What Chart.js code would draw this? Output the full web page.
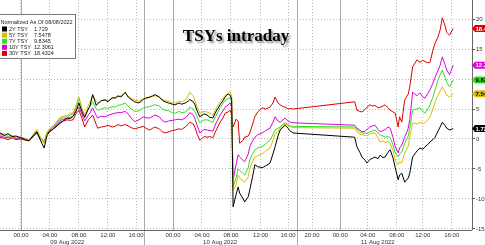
<!DOCTYPE html>
<html>
<head>
<meta charset="utf-8">
<script src="https://cdn.jsdelivr.net/npm/chart.js@4.4.1/dist/chart.umd.min.js"></script>
<style>
  html, body { margin: 0; padding: 0; background: #fff; }
</style>
</head>
<body>
<canvas id="chart" width="485" height="245"></canvas>
<script>
// session axis in hours, 0 = 21:00 on 08 Aug (closed hours squeezed out)
const hours = [
  0.0, 0.6, 1.1, 1.7, 2.2, 2.9, 3.5, 4.0, 4.6, 5.1, 5.5, 6.1, 6.5, 6.9, 7.3, 7.9, 8.3, 8.8, 9.3, 9.7,
  10.1, 10.5, 10.9, 11.3, 11.7, 12.2, 12.4, 12.8, 13.3, 13.5, 14.0, 14.5, 14.9, 15.5, 15.9, 16.3, 16.7, 17.3, 17.7, 18.1,
  18.6, 19.2, 19.8,
  20.3, 20.7, 21.1, 21.4, 22.0, 22.4, 22.8, 23.3, 23.8, 24.2, 24.7, 25.1, 25.6, 26.0, 26.2, 26.7, 26.9, 27.3, 27.6, 28.2,
  28.6, 29.0, 29.4, 29.8, 30.4, 30.8, 31.1, 31.5, 31.8, 32.0, 32.2, 32.6, 32.9, 33.1, 33.6, 33.8, 34.3, 34.5, 34.9, 35.2,
  35.6, 36.2, 36.7, 37.3, 37.7, 38.0, 38.4, 38.7, 39.1, 39.4, 39.8, 40.1, 40.5,
  49.0, 49.3, 49.7, 50.0, 50.4, 50.7, 51.1, 51.5, 51.8, 52.2, 52.5, 52.9, 53.2, 53.6, 53.9, 54.3, 54.6, 55.0, 55.2, 55.5,
  55.9, 56.4, 56.6, 57.0, 57.6, 58.0, 58.4, 58.7, 59.1, 59.4, 59.8, 60.1, 60.5, 60.8, 61.1, 61.5, 61.7, 62.1, 62.6
];

const tsy2y = [
  1.0, 0.6, 0.9, 0.4, 0.5, 0.2, -0.1, -0.3, 0.6, 1.2, 0.0, -1.5, 0.6, 1.3, 1.6, 2.2, 2.6, 3.1, 3.5, 3.4,
  3.8, 4.6, 6.0, 4.6, 3.6, 5.0, 5.4, 7.4, 5.6, 5.9, 6.4, 6.5, 6.2, 6.9, 6.8, 7.2, 7.0, 7.8, 7.0, 6.6,
  6.2, 6.0, 6.6,
  6.9, 7.0, 7.2, 7.4, 7.0, 6.5, 6.2, 6.0, 5.8, 5.7, 6.0, 5.8, 6.0, 6.3, 6.6, 6.2, 5.8, 4.5, 3.7, 4.2,
  4.0, 3.6, 3.5, 4.5, 5.7, 6.4, 7.0, 7.5, 7.3, 6.6, -11.3, -9.3, -8.0, -9.0, -10.0, -10.5, -9.6, -8.5, -6.2, -4.3,
  -4.6, -4.8, -4.5, -4.0, -2.5, -1.3, 0.5, 1.5, 2.0, 2.3, 1.8, 1.3, 1.0,
  0.3, -1.3, -2.2, -3.0, -3.5, -4.0, -3.4, -3.2, -3.0, -3.3, -2.7, -3.1, -3.0, -2.2, -1.8, -3.2, -4.8, -6.8, -6.0, -5.7,
  -7.2, -6.5, -5.7, -3.0, -2.0, -1.5, -1.7, -1.3, -0.9, -0.5, -0.1, 0.3, 1.3, 2.0, 2.8, 2.2, 1.8, 1.5, 1.73
];

const tsy5y = [
  0.8, 0.9, 0.5, 0.6, 0.3, 0.3, 0.1, -0.2, 0.8, 1.6, 0.5, -0.6, 1.2, 1.8, 2.2, 3.0, 3.6, 3.8, 3.9, 4.3,
  4.4, 5.6, 7.0, 5.2, 4.0, 5.6, 6.0, 7.3, 6.2, 6.0, 6.3, 6.6, 6.4, 6.7, 6.9, 7.0, 7.2, 7.6, 7.1, 6.8,
  6.5, 6.3, 6.7,
  6.8, 6.9, 7.1, 7.2, 7.0, 6.6, 6.4, 6.3, 6.0, 6.0, 6.3, 6.2, 6.5, 7.2, 7.8, 7.2, 6.5, 5.2, 4.3, 4.6,
  4.5, 4.3, 4.0, 5.0, 6.2, 6.8, 7.3, 7.6, 7.9, 7.1, -8.5, -7.7, -6.0, -6.5, -7.0, -7.2, -6.3, -5.0, -3.8, -3.0,
  -2.8, -2.5, -2.0, -1.5, -0.3, 0.8, 1.3, 1.8, 2.3, 2.5, 2.3, 2.1, 1.9,
  1.8, 1.2, 0.8, 0.7, 0.6, 0.5, 0.8, 1.0, 1.0, 0.2, -0.5, -0.3, -0.6, -0.4, -0.7, -2.0, -3.5, -4.3, -3.8, -4.0,
  -2.3, -1.2, 0.3, 2.7, 2.5, 2.8, 2.6, 2.7, 3.2, 3.7, 5.0, 6.2, 7.3, 8.0, 8.7, 7.8, 7.3, 7.0, 7.55
];

const tsy7y = [
  0.7, 0.6, 0.4, 0.3, 0.2, 0.2, 0.0, -0.2, 0.6, 1.3, 0.3, -0.7, 1.0, 1.6, 2.0, 2.8, 3.4, 3.6, 3.7, 4.0,
  4.2, 5.2, 6.8, 5.0, 3.8, 5.0, 5.4, 6.2, 5.0, 4.8, 5.0, 5.2, 5.1, 5.4, 5.3, 5.6, 5.7, 6.0, 5.5, 5.0,
  4.6, 4.7, 5.2,
  5.3, 5.4, 5.6, 5.7, 5.5, 5.0, 4.8, 4.7, 4.4, 4.3, 4.6, 4.4, 4.5, 4.9, 5.3, 5.0, 4.6, 3.5, 2.7, 3.2,
  3.2, 3.0, 2.8, 3.8, 5.2, 5.9, 6.5, 6.7, 6.9, 6.2, -8.0, -6.5, -5.0, -5.2, -5.8, -6.0, -4.8, -3.5, -2.4, -1.8,
  -1.5, -1.3, -0.8, -0.2, 0.7, 1.5, 1.8, 2.0, 2.5, 2.7, 2.4, 2.2, 2.1,
  2.0, 1.6, 1.2, 1.0, 1.0, 0.9, 1.2, 1.4, 1.5, 1.0, 0.7, 0.5, 0.3, 0.4, 0.2, -1.0, -2.3, -3.0, -2.5, -2.2,
  -0.7, 0.5, 1.8, 4.8, 5.0, 5.2, 4.6, 4.3, 5.0, 5.7, 7.0, 8.2, 9.8, 10.7, 11.5, 10.2, 9.5, 8.7, 9.83
];

const tsy10y = [
  0.5, 0.3, 0.2, 0.4, 0.1, 0.1, -0.1, -0.3, 0.5, 1.2, 0.2, -0.5, 1.0, 1.5, 1.9, 2.6, 3.1, 3.3, 3.4, 3.6,
  3.8, 4.8, 5.3, 4.2, 3.0, 4.0, 4.3, 5.2, 3.9, 3.5, 3.8, 3.7, 3.9, 4.2, 4.3, 4.4, 4.4, 4.6, 4.2, 3.5,
  2.9, 3.2, 3.7,
  3.5, 3.5, 3.8, 4.0, 3.7, 3.1, 2.8, 3.0, 3.1, 3.2, 3.3, 3.2, 3.5, 4.0, 4.4, 4.0, 3.5, 2.0, 1.0, 1.6,
  1.5, 1.4, 1.3, 2.5, 4.0, 4.7, 5.3, 5.7, 6.0, 5.3, -6.8, -4.3, -2.6, -3.0, -3.6, -3.8, -2.5, -1.3, -0.3, 0.3,
  0.7, 1.0, 1.4, 1.8, 2.8, 3.7, 3.0, 2.8, 3.2, 3.5, 3.0, 2.8, 2.7,
  2.3, 1.8, 1.5, 1.2, 1.3, 1.6, 2.0, 2.2, 2.3, 1.6, 1.2, 1.4, 1.6, 2.0, 1.8, 0.2, -1.3, -2.3, -1.5, -1.0,
  0.3, 1.8, 3.2, 7.8, 7.2, 7.7, 7.0, 6.8, 7.6, 8.2, 9.3, 10.3, 11.4, 12.3, 13.7, 12.3, 11.5, 10.7, 12.31
];

const tsy30y = [
  0.3, 0.1, -0.1, 0.2, -0.1, 0.0, -0.2, -0.3, 0.4, 1.0, 0.1, -0.4, 0.9, 1.3, 1.6, 2.4, 2.8, 3.0, 3.2, 3.1,
  3.2, 4.2, 4.8, 3.5, 2.0, 3.2, 3.4, 4.0, 2.4, 1.8, 2.0, 2.1, 2.3, 2.0, 2.1, 2.4, 2.2, 2.4, 2.2, 1.9,
  1.7, 1.9, 2.1,
  1.7, 1.5, 1.8, 2.0, 1.7, 1.2, 1.0, 1.2, 1.4, 1.5, 1.7, 1.6, 2.0, 2.5, 2.8, 2.5, 2.0, 0.6, -0.2, 0.4,
  0.3, 0.4, 0.2, 1.3, 2.8, 3.5, 4.3, 4.5, 4.8, 4.0, 2.0, 3.3, 3.0, -0.7, -0.2, 0.3, 0.5, 1.0, 2.5, 3.7,
  4.5, 5.2, 5.0, 5.3, 6.0, 7.0, 6.0, 5.7, 5.4, 5.3, 5.0, 5.1, 5.0,
  6.2, 4.8, 4.6, 4.5, 4.9, 5.3, 5.7, 5.5, 5.6, 5.2, 5.3, 5.5, 5.7, 5.2, 4.8, 4.5, 4.3, 2.0, 3.7, 2.8,
  6.5, 7.5, 8.7, 12.0, 13.2, 12.8, 13.1, 12.9, 12.7, 12.8, 14.8, 16.0, 17.0, 18.2, 20.2, 18.8, 17.8, 17.3, 18.43
];

const seriesNames = ['2Y TSY', '5Y TSY', '7Y TSY', '10Y TSY', '30Y TSY'];
const legendValues = ['1.729', '7.5478', '9.8345', '12.3061', '18.4324'];
const tagLabels = ['1.72', '7.54', '9.83', '12.3', '18.4'];
const seriesColors = ['#000000', '#d9bd00', '#33dd22', '#dd00dd', '#dd0000'];
const tagTextColors = ['#ffffff', '#000000', '#000000', '#ffffff', '#ffffff'];

const xTickHours = [2.9, 6.9, 10.9, 14.9, 18.8, 23.9, 27.9, 31.9, 36.0, 39.8, 43.1, 47.0, 50.8, 54.8, 58.4, 62.4];
const xTickLabels = ['00:00', '04:00', '08:00', '12:00', '16:00', '00:00', '04:00', '08:00', '12:00', '16:00',
  '20:00', '00:00', '04:00', '08:00', '12:00', '16:00'];
const midnightHours = [2.9, 23.9, 47.0];
const sessionBreakHours = [19.9, 41.0];
const dayLabels = ['09 Aug 2022', '10 Aug 2022', '11 Aug 2022'];
const dayLabelHours = [9.3, 30.4, 52.2];
const yTicks = [-15, -10, -5, 0, 5, 10, 15, 20];

const allSeries = [tsy2y, tsy5y, tsy7y, tsy10y, tsy30y];

Chart.defaults.font.family = '"Liberation Sans", Arial, sans-serif';

const overlay = {
  id: 'overlay',
  beforeDatasetsDraw(chart) {
    const { ctx, chartArea: a, scales: { x } } = chart;
    ctx.save();
    ctx.strokeStyle = '#a8a8a8';
    ctx.lineWidth = 1;
    midnightHours.forEach(h => {
      const px = Math.round(x.getPixelForValue(h)) + 0.5;
      ctx.beginPath(); ctx.moveTo(px, a.top); ctx.lineTo(px, a.bottom); ctx.stroke();
    });
    sessionBreakHours.forEach(h => {
      const px = Math.round(x.getPixelForValue(h)) + 0.5;
      ctx.beginPath(); ctx.moveTo(px, a.top); ctx.lineTo(px, chart.height); ctx.stroke();
    });
    ctx.restore();
  },
  afterDraw(chart) {
    const { ctx, chartArea: a, scales: { x, y } } = chart;
    ctx.save();

    // axis lines
    ctx.strokeStyle = '#666';
    ctx.lineWidth = 1;
    ctx.beginPath();
    ctx.moveTo(a.left, a.bottom + 0.5); ctx.lineTo(a.right, a.bottom + 0.5);
    ctx.moveTo(a.right + 0.5, a.top); ctx.lineTo(a.right + 0.5, a.bottom);
    ctx.stroke();

    // day labels under the time ticks
    ctx.fillStyle = '#333';
    ctx.font = '6px "Liberation Sans", Arial, sans-serif';
    ctx.textAlign = 'center';
    ctx.textBaseline = 'alphabetic';
    dayLabels.forEach((d, i) => ctx.fillText(d, x.getPixelForValue(dayLabelHours[i]), 243.5));

    // title
    ctx.save();
    ctx.font = 'bold 17px "Liberation Serif", "Times New Roman", serif';
    ctx.textAlign = 'center';
    ctx.shadowColor = 'rgba(0,0,0,0.45)';
    ctx.shadowOffsetX = 2;
    ctx.shadowOffsetY = 2;
    ctx.shadowBlur = 2;
    ctx.fillStyle = '#000';
    ctx.fillText('TSYs intraday', 236, 41);
    ctx.restore();

    // legend box
    ctx.fillStyle = '#fff';
    ctx.fillRect(-1, 14.5, 76.5, 44);
    ctx.strokeStyle = '#777';
    ctx.strokeRect(-1, 14.5, 76.5, 44);
    ctx.fillStyle = '#222';
    ctx.font = '5.5px "Liberation Sans", Arial, sans-serif';
    ctx.textAlign = 'left';
    ctx.textBaseline = 'middle';
    ctx.fillText('Normalized As Of 08/08/2022', 0.5, 22.5);
    seriesNames.forEach((n, i) => {
      const cy = 29 + i * 6.1;
      ctx.fillStyle = seriesColors[i];
      ctx.fillRect(2, cy - 2.5, 5, 5);
      ctx.fillStyle = '#222';
      ctx.fillText(n, 9, cy);
      ctx.fillText(legendValues[i], 34, cy);
    });

    // last-value tags on the right axis
    ctx.font = 'bold 6px "Liberation Sans", Arial, sans-serif';
    ctx.textBaseline = 'middle';
    allSeries.forEach((s, i) => {
      const py = y.getPixelForValue(s[s.length - 1]);
      const l = a.right;
      ctx.fillStyle = seriesColors[i];
      ctx.beginPath();
      ctx.moveTo(l, py);
      ctx.lineTo(l + 3, py - 3.5);
      ctx.lineTo(chart.width, py - 3.5);
      ctx.lineTo(chart.width, py + 3.5);
      ctx.lineTo(l + 3, py + 3.5);
      ctx.closePath();
      ctx.fill();
      ctx.fillStyle = tagTextColors[i];
      ctx.fillText(tagLabels[i], l + 3.5, py + 0.5);
    });
    ctx.restore();
  }
};

const datasets = allSeries.map((s, i) => ({
  label: seriesNames[i],
  data: hours.map((h, j) => ({ x: h, y: s[j] })),
  borderColor: seriesColors[i],
  borderWidth: 1,
  pointRadius: 0,
  tension: 0
}));

new Chart(document.getElementById('chart'), {
  type: 'line',
  data: { datasets },
  options: {
    responsive: false,
    animation: false,
    layout: { padding: 0 },
    plugins: { legend: { display: false }, tooltip: { enabled: false } },
    scales: {
      x: {
        type: 'linear',
        min: 0,
        max: 65.2,
        afterBuildTicks: s => { s.ticks = xTickHours.map(v => ({ value: v })); },
        afterFit: s => { s.height = 15; s.paddingLeft = 0; s.paddingRight = 0; },
        ticks: {
          autoSkip: false,
          maxRotation: 0,
          padding: 2,
          color: '#333',
          font: { size: 6 },
          callback: (v, i) => xTickLabels[i]
        },
        grid: { color: '#b8b8b8', drawTicks: false },
        border: { display: false, dash: [1, 2] }
      },
      y: {
        position: 'right',
        min: -15.17,
        max: 23.17,
        afterBuildTicks: s => { s.ticks = yTicks.map(v => ({ value: v })); },
        afterFit: s => { s.width = 13; s.paddingTop = 0; s.paddingBottom = 0; },
        ticks: { padding: 1, color: '#333', font: { size: 6 } },
        grid: { color: '#b8b8b8', tickLength: 3, tickColor: '#555' },
        border: { display: false, dash: [1, 2] }
      }
    }
  },
  plugins: [overlay]
});
</script>
</body>
</html>
